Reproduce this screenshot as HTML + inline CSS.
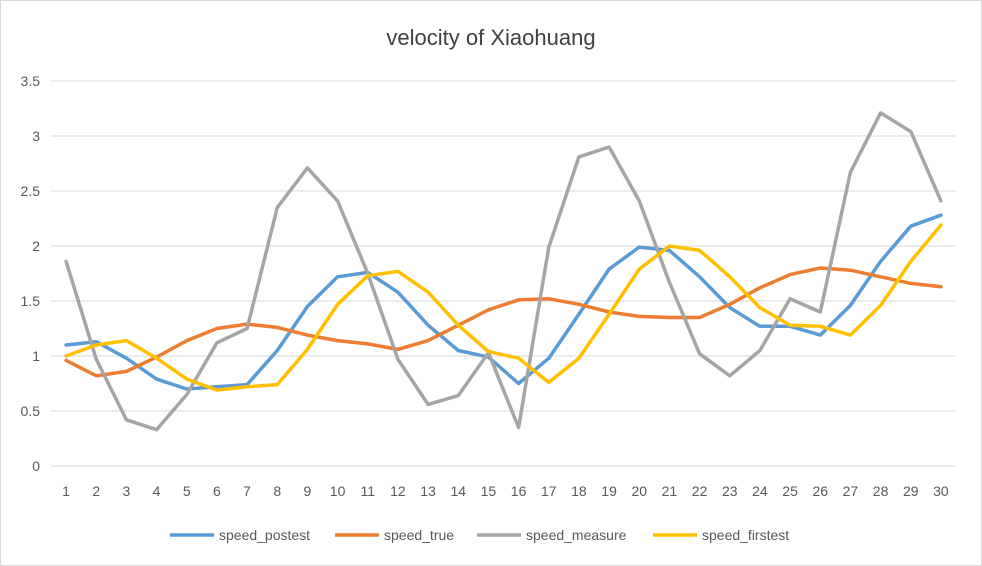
<!DOCTYPE html>
<html><head><meta charset="utf-8"><style>
body{margin:0;background:#fff;font-family:"Liberation Sans",sans-serif}
svg{display:block}
</style></head><body>
<svg id="c" width="982" height="566">
<rect x="0.5" y="0.5" width="981" height="565" fill="#fff" stroke="#d9d9d9"/>
<text x="491" y="45" text-anchor="middle" font-size="22" fill="#404040">velocity of Xiaohuang</text>
<g id="grid"></g><g id="lines"></g><g id="legend"></g>
</svg>
<script>
const categories=[1,2,3,4,5,6,7,8,9,10,11,12,13,14,15,16,17,18,19,20,21,22,23,24,25,26,27,28,29,30];
const yTicks=[0,0.5,1,1.5,2,2.5,3,3.5];
const yTickLabels=["0","0.5","1","1.5","2","2.5","3","3.5"];
const speedPostest=[1.1,1.13,0.98,0.79,0.7,0.72,0.74,1.05,1.45,1.72,1.76,1.58,1.28,1.05,0.99,0.75,0.98,1.38,1.79,1.99,1.96,1.72,1.44,1.27,1.27,1.19,1.46,1.86,2.18,2.28];
const speedTrue=[0.96,0.82,0.86,0.99,1.14,1.25,1.29,1.26,1.19,1.14,1.11,1.06,1.14,1.28,1.42,1.51,1.52,1.47,1.40,1.36,1.35,1.35,1.47,1.62,1.74,1.80,1.78,1.72,1.66,1.63];
const speedMeasure=[1.86,0.97,0.42,0.33,0.65,1.12,1.25,2.35,2.71,2.41,1.75,0.97,0.56,0.64,1.03,0.35,1.99,2.81,2.9,2.41,1.67,1.02,0.82,1.05,1.52,1.40,2.67,3.21,3.04,2.41];
const speedFirstest=[1.0,1.1,1.14,0.98,0.79,0.69,0.72,0.74,1.06,1.47,1.73,1.77,1.58,1.28,1.04,0.98,0.76,0.98,1.38,1.79,2.0,1.96,1.72,1.44,1.28,1.27,1.19,1.46,1.86,2.19];
const seriesNames=["speed_postest","speed_true","speed_measure","speed_firstest"];
const NS="http://www.w3.org/2000/svg";
const L=51,R=956,T=81,B=466,YMAX=3.5;
const bw=(R-L)/categories.length;
const xs=i=>L+bw*(i+0.5);
const ys=v=>B-(v/YMAX)*(B-T);
function mk(tag,attrs,parent){const e=document.createElementNS(NS,tag);for(const k in attrs)e.setAttribute(k,attrs[k]);parent.appendChild(e);return e;}
const grid=document.getElementById('grid');
yTicks.forEach((t,i)=>{
 const ln=mk('line',{x1:L,x2:R,y1:ys(t),y2:ys(t),stroke:'#d9d9d9','stroke-width':1},grid);
 
 
 const tx=mk('text',{x:40,y:ys(t)+5,'text-anchor':'end','font-size':14,fill:'#595959'},grid);
 tx.textContent=yTickLabels[i];
 
 
});
categories.forEach((c,i)=>{
 const tx=mk('text',{x:xs(i),y:496,'text-anchor':'middle','font-size':14,fill:'#595959'},grid);
 tx.textContent=c;
 
 
});
const colors=["#5b9bd5","#ed7d31","#a5a5a5","#ffc000"];
const data=[speedPostest,speedTrue,speedMeasure,speedFirstest];
const lines=document.getElementById('lines');
data.forEach((s,k)=>{
 const p=mk('polyline',{points:s.map((v,i)=>xs(i).toFixed(1)+','+ys(v).toFixed(1)).join(' '),fill:'none',stroke:colors[k],'stroke-width':3.5,'stroke-linejoin':'round','stroke-linecap':'round'},lines);
 
 
});
const lg=document.getElementById('legend');
const lx=[170,335,477,653];
seriesNames.forEach((n,k)=>{
 const g=mk('g',{},lg);
 
 
 mk('line',{x1:lx[k],x2:lx[k]+44,y1:535,y2:535,stroke:colors[k],'stroke-width':3.5},g);
 const t=mk('text',{x:lx[k]+49,y:540,'font-size':14,fill:'#595959'},g);
 t.textContent=n;
});
</script>
</body></html>
